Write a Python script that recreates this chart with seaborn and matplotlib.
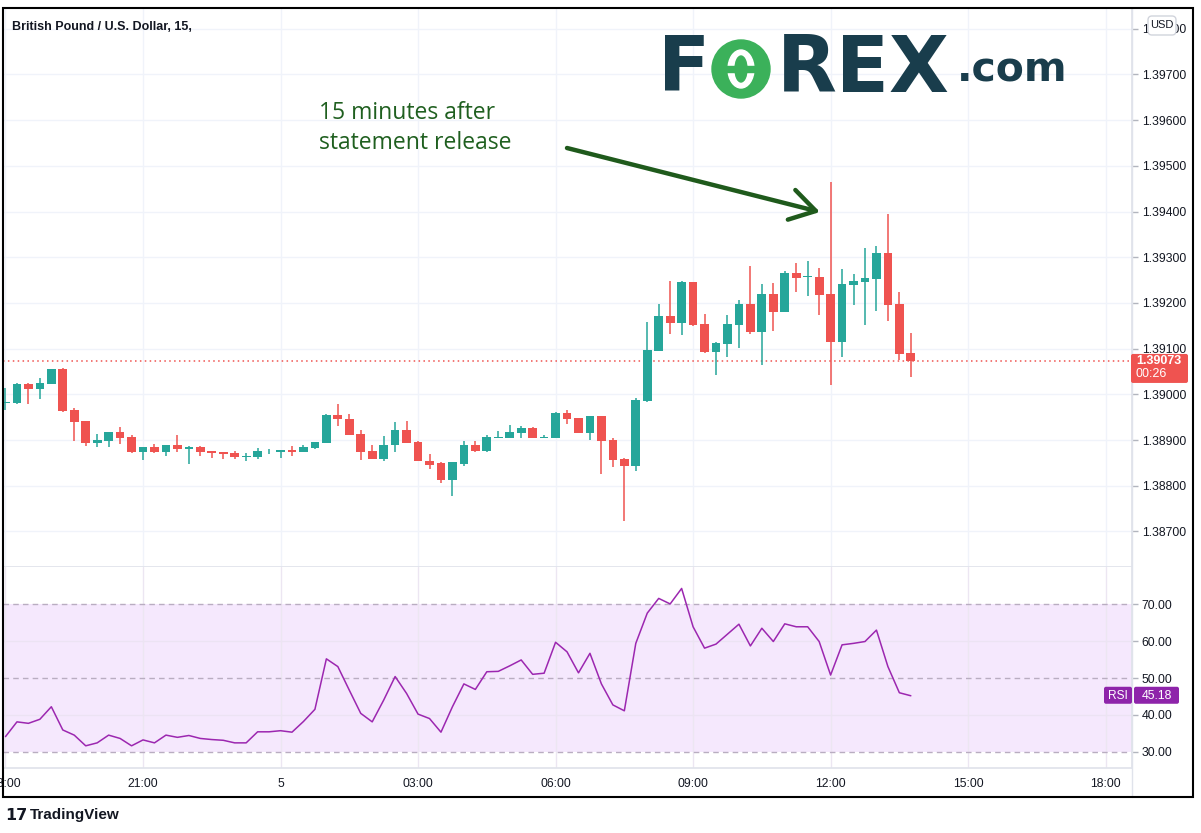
import matplotlib
matplotlib.use("Agg")
import matplotlib.pyplot as plt
import matplotlib.patches as mpatches
from matplotlib.transforms import IdentityTransform
import numpy as np
import pandas as pd
import seaborn as sns

# 15-minute GBP/USD candles, 18:00 (day 4) .. 13:45 (day 5)
opens = [1.38980, 1.38981, 1.39023, 1.39012, 1.39023, 1.39055, 1.38965, 1.38941, 1.38893, 1.38898,
         1.38917, 1.38906, 1.38873, 1.38884, 1.38873, 1.38889, 1.38881, 1.38884, 1.38875, 1.38873,
         1.38871, 1.38862, 1.38863, 1.38875, 1.38874, 1.38878, 1.38874, 1.38882, 1.38893, 1.38955,
         1.38946, 1.38913, 1.38876, 1.38859, 1.38888, 1.38922, 1.38896, 1.38854, 1.38849, 1.38813,
         1.38848, 1.38888, 1.38877, 1.38905, 1.38905, 1.38915, 1.38926, 1.38905, 1.38905, 1.38958,
         1.38948, 1.38915, 1.38952, 1.38900, 1.38858, 1.38844, 1.38985, 1.39095, 1.39171, 1.39157,
         1.39246, 1.39154, 1.39093, 1.39111, 1.39152, 1.39198, 1.39137, 1.39219, 1.39179, 1.39265,
         1.39256, 1.39257, 1.39219, 1.39115, 1.39239, 1.39246, 1.39252, 1.39309, 1.39198, 1.39090]
highs = [1.39014, 1.39025, 1.39025, 1.39036, 1.39056, 1.39058, 1.38969, 1.38941, 1.38913, 1.38917,
         1.38928, 1.38911, 1.38884, 1.38891, 1.38889, 1.38911, 1.38887, 1.38887, 1.38877, 1.38873,
         1.38876, 1.38871, 1.38883, 1.38880, 1.38878, 1.38887, 1.38889, 1.38896, 1.38957, 1.38979,
         1.38957, 1.38922, 1.38889, 1.38909, 1.38940, 1.38941, 1.38897, 1.38869, 1.38851, 1.38851,
         1.38898, 1.38898, 1.38911, 1.38920, 1.38933, 1.38930, 1.38928, 1.38911, 1.38961, 1.38966,
         1.38948, 1.38952, 1.38952, 1.38904, 1.38860, 1.38992, 1.39158, 1.39198, 1.39248, 1.39248,
         1.39246, 1.39176, 1.39114, 1.39174, 1.39206, 1.39281, 1.39241, 1.39244, 1.39270, 1.39287,
         1.39292, 1.39276, 1.39465, 1.39274, 1.39263, 1.39320, 1.39324, 1.39394, 1.39224, 1.39134]
lows = [1.38966, 1.38979, 1.38979, 1.38990, 1.39022, 1.38961, 1.38898, 1.38887, 1.38885, 1.38885,
        1.38891, 1.38871, 1.38856, 1.38871, 1.38865, 1.38873, 1.38848, 1.38865, 1.38861, 1.38859,
        1.38859, 1.38853, 1.38859, 1.38870, 1.38861, 1.38866, 1.38874, 1.38880, 1.38893, 1.38931,
        1.38911, 1.38857, 1.38859, 1.38855, 1.38874, 1.38894, 1.38853, 1.38837, 1.38807, 1.38778,
        1.38844, 1.38874, 1.38874, 1.38905, 1.38905, 1.38905, 1.38905, 1.38905, 1.38905, 1.38935,
        1.38915, 1.38900, 1.38826, 1.38842, 1.38723, 1.38833, 1.38983, 1.39095, 1.39133, 1.39130,
        1.39150, 1.39091, 1.39042, 1.39082, 1.39101, 1.39133, 1.39065, 1.39139, 1.39179, 1.39224,
        1.39215, 1.39174, 1.39020, 1.39082, 1.39195, 1.39152, 1.39182, 1.39160, 1.39075, 1.39038]
closes = [1.38983, 1.39023, 1.39012, 1.39025, 1.39055, 1.38963, 1.38939, 1.38893, 1.38900, 1.38917,
          1.38904, 1.38873, 1.38884, 1.38873, 1.38889, 1.38880, 1.38885, 1.38874, 1.38871, 1.38870,
          1.38863, 1.38864, 1.38876, 1.38877, 1.38878, 1.38874, 1.38884, 1.38896, 1.38955, 1.38945,
          1.38911, 1.38874, 1.38859, 1.38889, 1.38922, 1.38894, 1.38853, 1.38846, 1.38813, 1.38851,
          1.38888, 1.38877, 1.38907, 1.38907, 1.38918, 1.38926, 1.38905, 1.38907, 1.38959, 1.38946,
          1.38915, 1.38952, 1.38898, 1.38856, 1.38844, 1.38988, 1.39097, 1.39171, 1.39157, 1.39246,
          1.39152, 1.39093, 1.39112, 1.39154, 1.39198, 1.39137, 1.39219, 1.39179, 1.39265, 1.39254,
          1.39257, 1.39217, 1.39115, 1.39241, 1.39248, 1.39254, 1.39309, 1.39195, 1.39088, 1.39073]

# RSI(14)
rsi = [34.1, 38.1, 37.7, 38.8, 42.2, 35.9, 34.5, 31.6, 32.4, 34.5,
       33.6, 31.6, 33.2, 32.4, 34.5, 33.9, 34.4, 33.6, 33.3, 33.1,
       32.4, 32.4, 35.4, 35.4, 35.7, 35.3, 38.2, 41.5, 55.2, 53.1,
       46.7, 40.4, 38.1, 44.0, 50.4, 45.8, 40.2, 39.0, 35.3, 42.2,
       48.4, 46.9, 51.7, 51.8, 53.3, 54.9, 51.0, 51.3, 59.7, 57.1,
       51.4, 56.7, 48.4, 42.7, 41.1, 59.4, 67.6, 71.6, 70.1, 74.3,
       63.9, 58.1, 59.2, 61.9, 64.6, 58.7, 63.5, 59.9, 64.7, 63.9,
       63.9, 59.9, 50.8, 59.0, 59.4, 59.9, 63.0, 53.1, 46.0, 45.18]

time_ticks = [0, 12, 24, 36, 48, 60, 72, 84, 96]
time_labels = ["18:00", "21:00", "5", "03:00", "06:00", "09:00", "12:00", "15:00", "18:00"]
price_ticks = [1.387, 1.388, 1.389, 1.390, 1.391, 1.392, 1.393, 1.394, 1.395, 1.396, 1.397, 1.398]
rsi_ticks = [30, 40, 50, 60, 70]
last_price_text = "1.39073"
countdown_text = "00:26"

UP = "#26a69a"
DOWN = "#ef5350"
TXT = "#131722"
GRID = "#f0f3fa"
RSI_COL = "#9c27b0"

W, H = 1201, 833
sns.set_theme(style="white")
plt.rcParams["font.family"] = ["Liberation Sans", "DejaVu Sans"]

df = pd.DataFrame({"i": np.arange(len(opens)), "open": opens, "high": highs,
                   "low": lows, "close": closes, "rsi": rsi})
df["up"] = df["close"] >= df["open"]
df["color"] = np.where(df["up"], UP, DOWN)
df["body_lo"] = df[["open", "close"]].min(axis=1)
df["body_h"] = (df["close"] - df["open"]).abs().clip(lower=0.000018)

fig = plt.figure(figsize=(W / 100, H / 100), dpi=100)
fig.patch.set_facecolor("white")


def box(x0, y0, x1, y1):
    # pixel box (top-left origin) -> figure fraction rect
    return [x0 / W, 1 - y1 / H, (x1 - x0) / W, (y1 - y0) / H]


ax = fig.add_axes(box(3, 8, 1132, 567))
rax = fig.add_axes(box(3, 567, 1132, 768), sharex=ax)

xlim = (-0.218, 98.3)

# --- price pane ---
for y in price_ticks:
    ax.axhline(y, color=GRID, lw=1, zorder=0)
for t in time_ticks:
    ax.axvline(t, color=GRID, lw=1, zorder=0)

ax.vlines(df["i"], df["low"], df["high"], colors=df["color"], lw=1.1, zorder=2)
ax.bar(df["i"], df["body_h"], bottom=df["body_lo"], width=0.76, color=df["color"],
       linewidth=0, zorder=3)

last = closes[-1]
ax.axhline(last, color=DOWN, lw=1.1, ls=(0, (1, 2.2)), zorder=1)

ax.set_xlim(*xlim)
ax.set_ylim(1.386221, 1.398453)
ax.yaxis.tick_right()
ax.set_yticks(price_ticks)
ax.set_yticklabels([f"{v:.5f}" for v in price_ticks])
ax.tick_params(axis="y", length=4, width=1, color="#b2b5be", pad=3, labelsize=8.8,
               labelcolor=TXT, right=True)
ax.tick_params(axis="x", bottom=False, labelbottom=False)
for s in ["left", "top"]:
    ax.spines[s].set_visible(False)
ax.spines["right"].set_color("#e0e3eb")
ax.spines["bottom"].set_color("#e0e3eb")
ax.set_facecolor("white")

# --- RSI pane ---
rax.axhspan(30, 70, color="#f5e8fd", zorder=0, lw=0)
for t in time_ticks:
    rax.axvline(t, color="#ece6f2", lw=1, zorder=0.5)
for y in [40, 60]:
    rax.axhline(y, color="#ece3f3", lw=1, zorder=0.5)
for y in [30, 50, 70]:
    rax.axhline(y, color="#b9adc1", lw=1, ls=(0, (4, 3)), zorder=1)
sns.lineplot(data=df, x="i", y="rsi", ax=rax, color=RSI_COL, lw=1.1, zorder=3)
rax.set_ylim(25.58, 80.12)
rax.set_xlim(*xlim)
rax.yaxis.tick_right()
rax.set_yticks(rsi_ticks)
rax.set_yticklabels([f"{v:.2f}" for v in rsi_ticks])
rax.tick_params(axis="y", length=4, width=1, color="#b2b5be", pad=3, labelsize=8.8,
                labelcolor=TXT, right=True)
rax.set_xticks(time_ticks)
rax.set_xticklabels(time_labels)
rax.tick_params(axis="x", length=0, pad=7, labelsize=8.8, labelcolor=TXT)
rax.set_xlabel("")
rax.set_ylabel("")
for s in ["left", "top"]:
    rax.spines[s].set_visible(False)
for s in ["right", "bottom"]:
    rax.spines[s].set_color("#e0e3eb")
rax.set_facecolor("white")

fig.canvas.draw()

# last-price label on price scale
_, ly = ax.transData.transform((0, last))
fig.add_artist(mpatches.FancyBboxPatch((1131, ly - 22), 57, 29,
               boxstyle="round,pad=0,rounding_size=2", transform=IdentityTransform(),
               facecolor=DOWN, edgecolor="none", zorder=10))
fig.text(1136 / W, ly / H, last_price_text, color="white", fontsize=9,
         fontweight="bold", va="center", ha="left", zorder=11)
fig.text(1136 / W, (ly - 13) / H, countdown_text, color="white", fontsize=9,
         va="center", ha="left", zorder=11)

# RSI value label
_, ry = rax.transData.transform((0, rsi[-1]))
fig.add_artist(mpatches.FancyBboxPatch((1104, ry - 8), 28, 17,
               boxstyle="round,pad=0,rounding_size=2", transform=IdentityTransform(),
               facecolor="#8e24aa", edgecolor="none", zorder=10))
fig.add_artist(mpatches.FancyBboxPatch((1134, ry - 8), 45, 17,
               boxstyle="round,pad=0,rounding_size=2", transform=IdentityTransform(),
               facecolor="#8e24aa", edgecolor="none", zorder=10))
fig.text(1118 / W, ry / H, "RSI", color="white", fontsize=8.6, va="center", ha="center", zorder=11)
fig.text(1156.5 / W, ry / H, f"{rsi[-1]:.2f}", color="white", fontsize=8.8,
         va="center", ha="center", zorder=11)

# USD box over the top label
fig.add_artist(mpatches.FancyBboxPatch((1148, H - 35), 28, 19,
               boxstyle="round,pad=0,rounding_size=4", transform=IdentityTransform(),
               facecolor="white", edgecolor="#d1d4dc", lw=1, zorder=10))
fig.text(1162 / W, 1 - 25.5 / H, "USD", color=TXT, fontsize=8, va="center", ha="center", zorder=11)

# title
fig.text(12 / W, 1 - 27 / H, "British Pound / U.S. Dollar, 15,", color=TXT, fontsize=9,
         fontweight="bold", va="center", ha="left")

# annotation
fig.text(319 / W, 1 - 128 / H, "15 minutes after\nstatement release", color="#1f5f1f",
         fontsize=16.5, family=["Open Sans", "DejaVu Sans"], va="center", ha="left",
         linespacing=1.3)
ax.annotate("", xy=((820 - 5.5) / 11.46, 1.39 + (394.3 - 212) / 45700),
            xytext=((567 - 5.5) / 11.46, 1.39 + (394.3 - 148) / 45700),
            arrowprops=dict(arrowstyle="->,head_length=0.9,head_width=0.55", color="#1f5a1c",
                            lw=3.2, mutation_scale=20, shrinkA=0, shrinkB=0), zorder=8)

# FOREX.com logo
logo_dark = "#193d4c"
logo_green = "#3bb15a"
logo_y = 1 - 70 / H
fig.text(658 / W, logo_y, "F", color=logo_dark, fontsize=55, fontweight="heavy",
         family="DejaVu Sans", va="center", ha="left")
fig.add_artist(mpatches.Circle((741, H - 69), 29, transform=IdentityTransform(),
                               color=logo_green, zorder=5))
fig.add_artist(mpatches.Ellipse((741, H - 69), 26, 38, transform=IdentityTransform(),
                                color="white", zorder=6))
fig.add_artist(mpatches.Ellipse((741, H - 69), 12, 26, transform=IdentityTransform(),
                                color=logo_green, zorder=7))
fig.add_artist(mpatches.Rectangle((722, H - 72), 36, 6, transform=IdentityTransform(),
                                  color=logo_green, zorder=7))
fig.text(777 / W, logo_y, "REX", color=logo_dark, fontsize=56, fontweight="heavy",
         family="DejaVu Sans", va="center", ha="left")
fig.text(957 / W, 1 - 70 / H, ".com", color=logo_dark, fontsize=29.5, fontweight="heavy",
         family="DejaVu Sans", va="center", ha="left")

# TradingView footer
fig.text(5 / W, 1 - 815 / H, "17", color=TXT, fontsize=11.5, fontweight="heavy",
         family="DejaVu Sans", va="center", ha="left")
fig.text(30 / W, 1 - 815 / H, "TradingView", color=TXT, fontsize=11, fontweight="bold",
         va="center", ha="left")

# outer chart frame
fig.add_artist(mpatches.Rectangle((3, H - 797), 1190, 789, transform=IdentityTransform(),
                                  fill=False, edgecolor="black", lw=1.5, zorder=20))
fig.add_artist(plt.Line2D([1132 / W, 1132 / W], [1 - 797 / H, 1 - 8 / H],
                          transform=fig.transFigure, color="#e0e3eb", lw=1, zorder=4))

fig.savefig("out.png", dpi=100, facecolor="white")
